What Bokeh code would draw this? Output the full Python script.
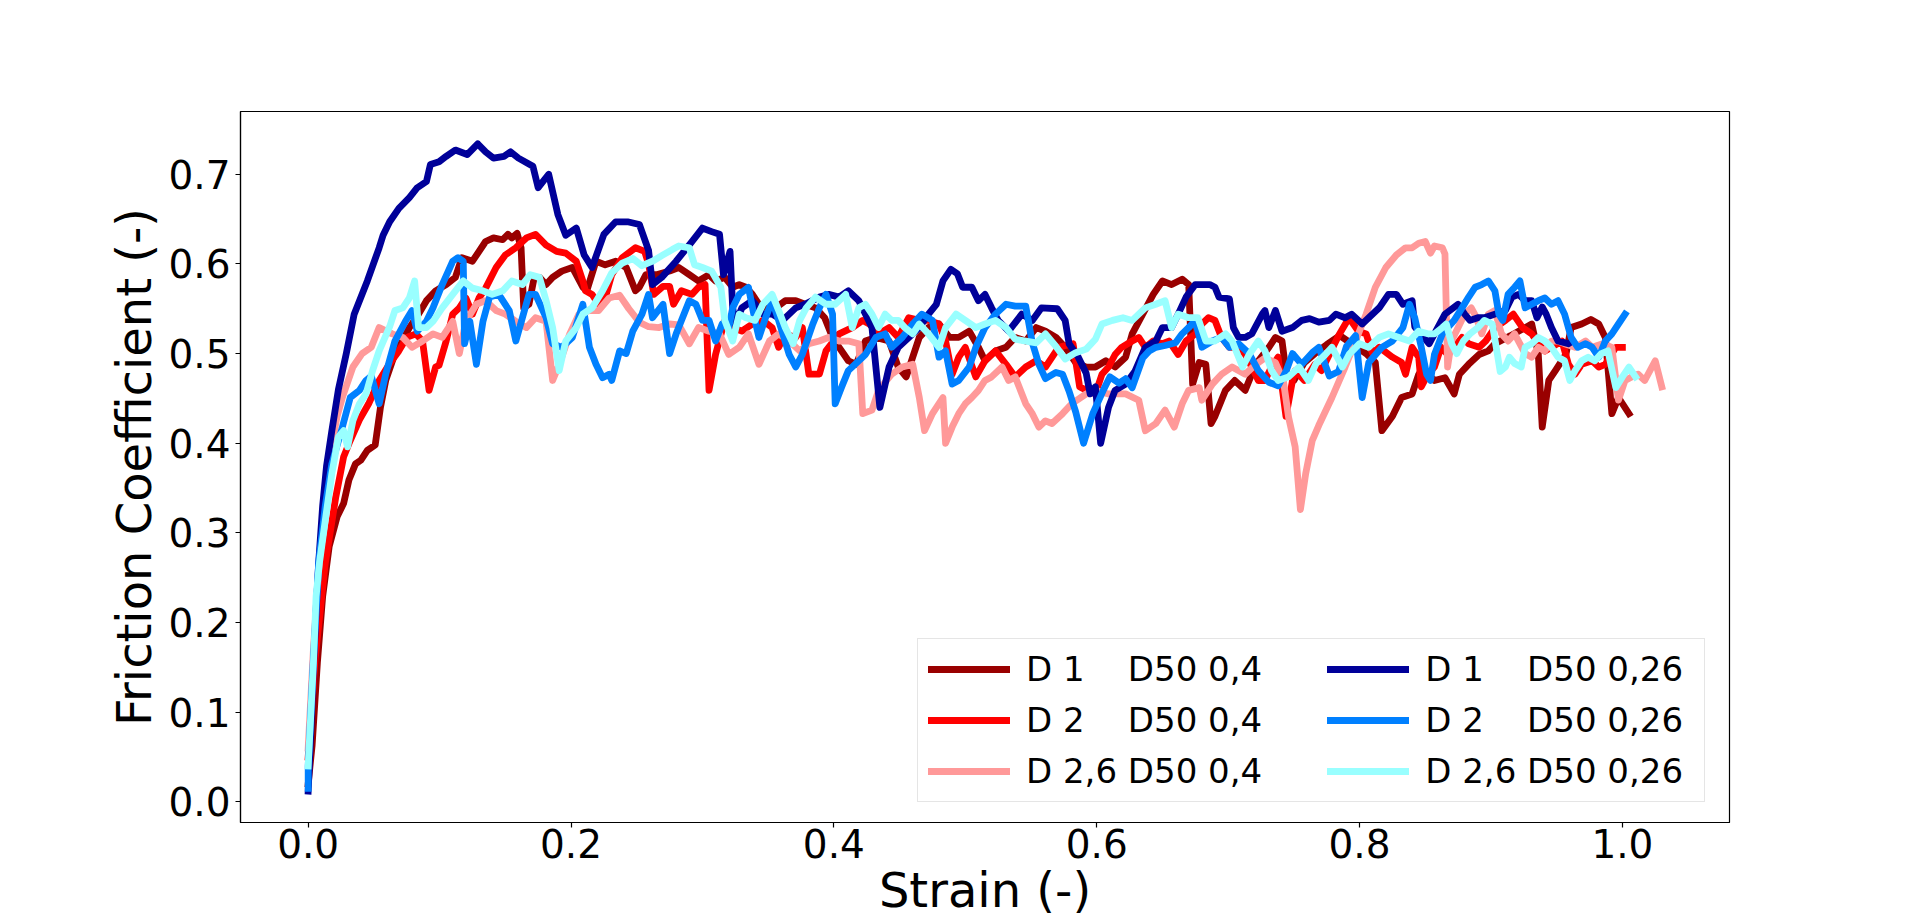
from bokeh.plotting import figure
from bokeh.models import (Range1d, FixedTicker, NumeralTickFormatter, Legend,
                          LegendItem)
from bokeh.embed import file_html
from bokeh.resources import INLINE

FONT = "DejaVu Sans"

x_ticks = [0.0, 0.2, 0.4, 0.6, 0.8, 1.0]
y_ticks = [0.0, 0.1, 0.2, 0.3, 0.4, 0.5, 0.6, 0.7]

x_label = "Strain (-)"
y_label = "Friction Coefficient (-)"

NB = "\u00a0"
labels = [
    "D 1" + NB * 4 + "D50 0,4",
    "D 2" + NB * 4 + "D50 0,4",
    "D 2,6 D50 0,4",
    "D 1" + NB * 4 + "D50 0,26",
    "D 2" + NB * 4 + "D50 0,26",
    "D 2,6 D50 0,26",
]
colors = ["#990000", "#ff0000", "#ff9999", "#000099", "#0080ff", "#99ffff"]

# (strain, friction coefficient)
d1_040 = [(0.0,0.02),(0.003,0.063),(0.007,0.155),(0.011,0.229),(0.016,0.285),(0.022,0.318),(0.027,0.333),(0.031,0.359),(0.036,0.377),(0.040,0.381),(0.045,0.392),(0.051,0.398),(0.055,0.44),(0.059,0.47),(0.066,0.5),(0.072,0.515),(0.077,0.529),(0.084,0.544),(0.090,0.559),(0.097,0.570),(0.105,0.577),(0.112,0.585),(0.117,0.607),(0.125,0.603),(0.130,0.614),(0.135,0.625),(0.141,0.629),(0.148,0.627),(0.152,0.633),(0.155,0.629),(0.159,0.634),(0.162,0.618),(0.164,0.551),(0.168,0.555),(0.172,0.585),(0.176,0.585),(0.181,0.577),(0.186,0.585),(0.193,0.592),(0.201,0.596),(0.209,0.574),(0.212,0.570),(0.219,0.603),(0.226,0.599),(0.234,0.603),(0.242,0.596),(0.249,0.570),(0.252,0.574),(0.257,0.588),(0.265,0.588),(0.275,0.592),(0.282,0.596),(0.290,0.588),(0.297,0.581),(0.305,0.588),(0.310,0.581),(0.317,0.585),(0.323,0.574),(0.328,0.577),(0.333,0.574),(0.338,0.566),(0.343,0.555),(0.353,0.548),(0.363,0.559),(0.371,0.559),(0.378,0.555),(0.386,0.551),(0.393,0.54),(0.399,0.518),(0.404,0.507),(0.411,0.492),(0.417,0.488),(0.424,0.514),(0.432,0.518),(0.442,0.514),(0.449,0.485),(0.455,0.474),(0.460,0.496),(0.465,0.518),(0.472,0.529),(0.480,0.533),(0.488,0.518),(0.495,0.518),(0.503,0.525),(0.510,0.507),(0.515,0.492),(0.523,0.503),(0.531,0.507),(0.538,0.518),(0.546,0.514),(0.554,0.529),(0.561,0.525),(0.569,0.518),(0.576,0.507),(0.584,0.49),(0.592,0.485),(0.599,0.485),(0.607,0.492),(0.614,0.485),(0.622,0.496),(0.627,0.522),(0.635,0.544),(0.643,0.566),(0.650,0.581),(0.657,0.577),(0.665,0.583),(0.670,0.577),(0.673,0.466),(0.678,0.49),(0.683,0.488),(0.687,0.422),(0.690,0.430),(0.698,0.459),(0.705,0.470),(0.713,0.459),(0.721,0.488),(0.731,0.507),(0.736,0.518),(0.741,0.514),(0.744,0.48),(0.750,0.47),(0.758,0.49),(0.766,0.50),(0.775,0.51),(0.785,0.52),(0.795,0.51),(0.805,0.50),(0.812,0.49),(0.817,0.414),(0.825,0.43),(0.832,0.451),(0.840,0.455),(0.845,0.477),(0.852,0.477),(0.857,0.470),(0.865,0.473),(0.872,0.455),(0.876,0.477),(0.883,0.488),(0.891,0.499),(0.898,0.503),(0.903,0.511),(0.915,0.52),(0.931,0.533),(0.936,0.50),(0.939,0.418),(0.944,0.470),(0.949,0.481),(0.957,0.499),(0.961,0.529),(0.969,0.533),(0.976,0.538),(0.982,0.533),(0.987,0.518),(0.992,0.433),(0.997,0.451),(1.005,0.433)]

d2_040 = [(0.0,0.05),(0.005,0.155),(0.013,0.266),(0.021,0.34),(0.027,0.385),(0.032,0.403),(0.039,0.426),(0.046,0.444),(0.054,0.47),(0.062,0.489),(0.069,0.503),(0.075,0.518),(0.082,0.522),(0.087,0.514),(0.092,0.459),(0.097,0.485),(0.0996,0.487),(0.105,0.514),(0.110,0.544),(0.115,0.551),(0.120,0.562),(0.125,0.544),(0.130,0.562),(0.135,0.573),(0.143,0.596),(0.150,0.610),(0.158,0.618),(0.166,0.629),(0.173,0.633),(0.181,0.621),(0.189,0.614),(0.196,0.612),(0.204,0.603),(0.209,0.581),(0.211,0.570),(0.216,0.566),(0.221,0.555),(0.226,0.562),(0.231,0.588),(0.239,0.607),(0.249,0.618),(0.256,0.614),(0.259,0.6),(0.263,0.566),(0.270,0.575),(0.275,0.575),(0.278,0.555),(0.284,0.570),(0.292,0.566),(0.297,0.574),(0.302,0.577),(0.305,0.459),(0.310,0.499),(0.317,0.537),(0.323,0.529),(0.330,0.525),(0.338,0.533),(0.346,0.537),(0.353,0.529),(0.358,0.507),(0.363,0.522),(0.371,0.518),(0.376,0.529),(0.381,0.477),(0.389,0.477),(0.394,0.503),(0.404,0.522),(0.414,0.529),(0.422,0.537),(0.427,0.533),(0.434,0.522),(0.442,0.529),(0.449,0.518),(0.457,0.540),(0.465,0.537),(0.472,0.537),(0.480,0.533),(0.485,0.514),(0.490,0.477),(0.495,0.496),(0.500,0.507),(0.508,0.474),(0.515,0.492),(0.523,0.503),(0.531,0.488),(0.538,0.474),(0.546,0.485),(0.554,0.492),(0.561,0.485),(0.571,0.507),(0.582,0.511),(0.587,0.463),(0.592,0.459),(0.599,0.455),(0.604,0.477),(0.609,0.485),(0.614,0.499),(0.619,0.507),(0.627,0.514),(0.632,0.518),(0.637,0.507),(0.643,0.514),(0.650,0.511),(0.655,0.514),(0.662,0.499),(0.668,0.514),(0.675,0.522),(0.680,0.533),(0.685,0.540),(0.690,0.537),(0.695,0.518),(0.701,0.507),(0.708,0.507),(0.713,0.499),(0.718,0.485),(0.723,0.470),(0.728,0.470),(0.733,0.485),(0.738,0.496),(0.744,0.43),(0.749,0.47),(0.751,0.481),(0.758,0.470),(0.766,0.488),(0.771,0.481),(0.776,0.496),(0.784,0.52),(0.792,0.54),(0.799,0.525),(0.805,0.522),(0.810,0.50),(0.815,0.507),(0.825,0.496),(0.832,0.49),(0.835,0.477),(0.840,0.507),(0.845,0.496),(0.847,0.463),(0.852,0.477),(0.857,0.485),(0.862,0.507),(0.867,0.499),(0.872,0.507),(0.878,0.518),(0.883,0.511),(0.891,0.507),(0.896,0.514),(0.903,0.529),(0.911,0.537),(0.917,0.544),(0.924,0.529),(0.931,0.522),(0.936,0.511),(0.941,0.503),(0.946,0.507),(0.954,0.514),(0.959,0.488),(0.964,0.477),(0.969,0.488),(0.977,0.492),(0.982,0.485),(0.987,0.488),(0.995,0.507),(1.0,0.507)]

d26_040 = [(0.0,0.06),(0.004,0.17),(0.008,0.26),(0.012,0.33),(0.017,0.39),(0.022,0.43),(0.026,0.451),(0.034,0.485),(0.041,0.5),(0.048,0.507),(0.054,0.529),(0.064,0.522),(0.072,0.518),(0.079,0.507),(0.087,0.514),(0.095,0.522),(0.102,0.518),(0.110,0.536),(0.115,0.5),(0.120,0.536),(0.128,0.555),(0.135,0.559),(0.143,0.548),(0.150,0.544),(0.158,0.536),(0.166,0.529),(0.173,0.540),(0.181,0.536),(0.186,0.470),(0.191,0.488),(0.199,0.522),(0.206,0.544),(0.214,0.548),(0.221,0.548),(0.229,0.562),(0.237,0.565),(0.244,0.55),(0.252,0.535),(0.259,0.530),(0.267,0.529),(0.275,0.533),(0.282,0.532),(0.290,0.511),(0.297,0.529),(0.305,0.525),(0.313,0.522),(0.320,0.499),(0.328,0.507),(0.335,0.522),(0.343,0.488),(0.351,0.514),(0.358,0.522),(0.366,0.514),(0.374,0.503),(0.381,0.511),(0.389,0.514),(0.396,0.518),(0.404,0.514),(0.411,0.514),(0.419,0.511),(0.422,0.433),(0.429,0.437),(0.434,0.459),(0.444,0.477),(0.452,0.485),(0.460,0.488),(0.465,0.451),(0.469,0.414),(0.475,0.433),(0.483,0.451),(0.485,0.4),(0.490,0.418),(0.495,0.433),(0.500,0.444),(0.505,0.451),(0.510,0.459),(0.515,0.470),(0.520,0.474),(0.528,0.485),(0.533,0.470),(0.538,0.474),(0.546,0.444),(0.551,0.433),(0.556,0.418),(0.561,0.425),(0.566,0.422),(0.574,0.433),(0.581,0.444),(0.592,0.455),(0.599,0.459),(0.609,0.455),(0.622,0.455),(0.632,0.448),(0.637,0.414),(0.645,0.422),(0.652,0.437),(0.659,0.418),(0.665,0.444),(0.670,0.459),(0.678,0.462),(0.680,0.448),(0.688,0.466),(0.695,0.477),(0.703,0.485),(0.713,0.477),(0.721,0.488),(0.728,0.495),(0.736,0.49),(0.742,0.47),(0.746,0.429),(0.751,0.396),(0.755,0.326),(0.759,0.366),(0.764,0.403),(0.769,0.42),(0.779,0.451),(0.789,0.485),(0.797,0.514),(0.805,0.544),(0.812,0.574),(0.820,0.596),(0.828,0.61),(0.835,0.618),(0.840,0.618),(0.845,0.623),(0.850,0.625),(0.854,0.612),(0.857,0.620),(0.863,0.618),(0.865,0.611),(0.867,0.485),(0.870,0.514),(0.875,0.529),(0.880,0.544),(0.885,0.551),(0.889,0.540),(0.893,0.522),(0.898,0.544),(0.903,0.548),(0.908,0.522),(0.913,0.514),(0.918,0.522),(0.926,0.5),(0.931,0.496),(0.936,0.507),(0.941,0.503),(0.946,0.514),(0.951,0.514),(0.956,0.511),(0.964,0.507),(0.972,0.514),(0.977,0.507),(0.985,0.511),(0.992,0.507),(0.997,0.448),(1.002,0.470),(1.007,0.474),(1.012,0.477),(1.017,0.470),(1.025,0.492),(1.030,0.463)]

d1_026 = [(0.0,0.012),(0.002,0.08),(0.004,0.15),(0.006,0.21),(0.008,0.267),(0.011,0.33),(0.014,0.375),(0.018,0.414),(0.023,0.46),(0.029,0.50),(0.035,0.544),(0.045,0.581),(0.054,0.618),(0.057,0.632),(0.062,0.647),(0.069,0.662),(0.077,0.674),(0.083,0.685),(0.090,0.692),(0.093,0.711),(0.0996,0.714),(0.105,0.720),(0.112,0.727),(0.121,0.722),(0.129,0.734),(0.135,0.725),(0.141,0.718),(0.149,0.720),(0.154,0.725),(0.160,0.718),(0.171,0.709),(0.175,0.685),(0.183,0.700),(0.190,0.655),(0.196,0.632),(0.204,0.640),(0.210,0.610),(0.216,0.596),(0.225,0.633),(0.234,0.647),(0.243,0.647),(0.252,0.644),(0.259,0.615),(0.262,0.577),(0.269,0.585),(0.280,0.603),(0.292,0.625),(0.300,0.640),(0.307,0.636),(0.313,0.633),(0.316,0.588),(0.321,0.614),(0.323,0.551),(0.325,0.533),(0.330,0.551),(0.338,0.559),(0.346,0.544),(0.353,0.544),(0.361,0.537),(0.371,0.551),(0.378,0.555),(0.389,0.563),(0.396,0.566),(0.404,0.563),(0.411,0.570),(0.419,0.559),(0.424,0.544),(0.429,0.529),(0.435,0.440),(0.442,0.485),(0.449,0.507),(0.457,0.518),(0.465,0.529),(0.472,0.544),(0.478,0.555),(0.483,0.581),(0.489,0.594),(0.494,0.589),(0.498,0.574),(0.505,0.574),(0.510,0.559),(0.515,0.566),(0.520,0.551),(0.525,0.537),(0.533,0.525),(0.543,0.544),(0.551,0.537),(0.558,0.551),(0.570,0.550),(0.576,0.537),(0.579,0.511),(0.586,0.496),(0.592,0.478),(0.595,0.455),(0.599,0.463),(0.603,0.400),(0.609,0.440),(0.614,0.459),(0.622,0.466),(0.629,0.480),(0.637,0.507),(0.645,0.514),(0.650,0.529),(0.657,0.529),(0.662,0.544),(0.668,0.563),(0.675,0.577),(0.686,0.577),(0.690,0.574),(0.693,0.563),(0.701,0.561),(0.704,0.529),(0.708,0.518),(0.713,0.518),(0.718,0.522),(0.726,0.544),(0.728,0.548),(0.731,0.529),(0.736,0.548),(0.741,0.525),(0.749,0.529),(0.756,0.537),(0.762,0.539),(0.769,0.535),(0.777,0.537),(0.782,0.544),(0.789,0.540),(0.794,0.544),(0.802,0.533),(0.807,0.540),(0.815,0.551),(0.822,0.566),(0.828,0.566),(0.833,0.555),(0.840,0.559),(0.842,0.530),(0.853,0.511),(0.865,0.544),(0.875,0.555),(0.880,0.544),(0.884,0.537),(0.890,0.540),(0.895,0.540),(0.903,0.544),(0.911,0.548),(0.916,0.563),(0.921,0.566),(0.926,0.559),(0.931,0.559),(0.935,0.540),(0.939,0.552),(0.942,0.544),(0.946,0.529),(0.951,0.514),(0.959,0.511),(0.962,0.514)]

d2_026 = [(0.0,0.015),(0.0,0.04),(0.004,0.16),(0.008,0.267),(0.013,0.33),(0.018,0.377),(0.026,0.418),(0.032,0.451),(0.039,0.459),(0.044,0.470),(0.048,0.475),(0.054,0.444),(0.059,0.477),(0.066,0.514),(0.074,0.536),(0.079,0.548),(0.083,0.525),(0.090,0.536),(0.095,0.551),(0.102,0.577),(0.110,0.603),(0.114,0.607),(0.118,0.603),(0.119,0.511),(0.123,0.536),(0.128,0.488),(0.133,0.536),(0.138,0.563),(0.145,0.566),(0.153,0.548),(0.158,0.514),(0.163,0.540),(0.168,0.566),(0.173,0.566),(0.181,0.540),(0.186,0.511),(0.193,0.507),(0.201,0.518),(0.209,0.555),(0.214,0.507),(0.219,0.488),(0.224,0.473),(0.229,0.477),(0.231,0.470),(0.237,0.503),(0.242,0.500),(0.247,0.525),(0.254,0.544),(0.259,0.566),(0.262,0.540),(0.270,0.555),(0.275,0.500),(0.280,0.522),(0.290,0.559),(0.295,0.555),(0.300,0.537),(0.305,0.537),(0.310,0.514),(0.315,0.533),(0.320,0.529),(0.323,0.551),(0.328,0.566),(0.335,0.574),(0.340,0.537),(0.343,0.518),(0.348,0.540),(0.353,0.559),(0.358,0.537),(0.366,0.499),(0.371,0.485),(0.376,0.499),(0.384,0.533),(0.389,0.551),(0.394,0.566),(0.399,0.544),(0.401,0.444),(0.406,0.463),(0.411,0.481),(0.419,0.492),(0.424,0.499),(0.432,0.518),(0.439,0.522),(0.444,0.507),(0.452,0.518),(0.460,0.533),(0.467,0.544),(0.475,0.537),(0.480,0.496),(0.485,0.503),(0.490,0.466),(0.495,0.470),(0.503,0.485),(0.508,0.507),(0.515,0.529),(0.523,0.544),(0.531,0.555),(0.538,0.553),(0.546,0.553),(0.551,0.512),(0.556,0.488),(0.561,0.472),(0.569,0.479),(0.574,0.477),(0.579,0.458),(0.584,0.435),(0.590,0.400),(0.597,0.433),(0.605,0.459),(0.610,0.474),(0.617,0.467),(0.622,0.472),(0.627,0.462),(0.635,0.495),(0.640,0.503),(0.645,0.507),(0.652,0.509),(0.660,0.512),(0.665,0.522),(0.670,0.529),(0.675,0.537),(0.680,0.507),(0.688,0.514),(0.695,0.518),(0.701,0.507),(0.708,0.511),(0.716,0.500),(0.723,0.481),(0.731,0.468),(0.738,0.464),(0.744,0.480),(0.749,0.500),(0.756,0.488),(0.764,0.501),(0.769,0.507),(0.777,0.475),(0.784,0.480),(0.790,0.508),(0.797,0.520),(0.802,0.451),(0.807,0.490),(0.817,0.507),(0.825,0.514),(0.833,0.529),(0.838,0.555),(0.842,0.540),(0.847,0.507),(0.851,0.477),(0.854,0.470),(0.857,0.499),(0.863,0.522),(0.867,0.529),(0.872,0.537),(0.878,0.551),(0.883,0.563),(0.888,0.574),(0.893,0.577),(0.898,0.581),(0.903,0.570),(0.906,0.544),(0.909,0.537),(0.913,0.566),(0.918,0.574),(0.922,0.581),(0.926,0.551),(0.931,0.555),(0.936,0.559),(0.941,0.562),(0.946,0.555),(0.951,0.559),(0.956,0.544),(0.961,0.518),(0.966,0.507),(0.972,0.511),(0.977,0.507),(0.982,0.496),(0.987,0.514),(0.992,0.522),(0.997,0.533),(1.002,0.544)]

d26_026 = [(0.0,0.04),(0.004,0.155),(0.006,0.229),(0.0086,0.267),(0.0134,0.318),(0.018,0.366),(0.023,0.407),(0.027,0.414),(0.030,0.396),(0.034,0.425),(0.039,0.444),(0.044,0.455),(0.049,0.481),(0.054,0.503),(0.062,0.530),(0.066,0.548),(0.072,0.551),(0.077,0.562),(0.081,0.581),(0.084,0.529),(0.090,0.529),(0.095,0.536),(0.102,0.551),(0.110,0.566),(0.118,0.581),(0.125,0.573),(0.133,0.570),(0.140,0.566),(0.148,0.570),(0.155,0.581),(0.163,0.577),(0.169,0.588),(0.176,0.585),(0.181,0.559),(0.186,0.529),(0.191,0.481),(0.196,0.514),(0.204,0.529),(0.209,0.544),(0.216,0.551),(0.224,0.570),(0.231,0.590),(0.239,0.601),(0.247,0.606),(0.254,0.598),(0.262,0.603),(0.270,0.610),(0.277,0.616),(0.282,0.620),(0.290,0.618),(0.294,0.599),(0.300,0.596),(0.307,0.592),(0.314,0.574),(0.317,0.537),(0.323,0.514),(0.328,0.544),(0.333,0.540),(0.340,0.537),(0.346,0.555),(0.353,0.566),(0.358,0.548),(0.363,0.529),(0.369,0.511),(0.374,0.537),(0.379,0.551),(0.386,0.563),(0.394,0.555),(0.401,0.555),(0.409,0.566),(0.414,0.529),(0.419,0.551),(0.424,0.555),(0.429,0.544),(0.434,0.529),(0.439,0.544),(0.444,0.537),(0.449,0.537),(0.454,0.529),(0.460,0.522),(0.465,0.533),(0.472,0.522),(0.480,0.507),(0.485,0.529),(0.493,0.544),(0.500,0.537),(0.508,0.529),(0.515,0.533),(0.523,0.537),(0.531,0.529),(0.538,0.516),(0.546,0.514),(0.554,0.512),(0.561,0.522),(0.569,0.508),(0.576,0.494),(0.584,0.501),(0.592,0.505),(0.599,0.516),(0.604,0.533),(0.612,0.537),(0.620,0.540),(0.627,0.537),(0.632,0.544),(0.637,0.551),(0.645,0.555),(0.652,0.559),(0.657,0.529),(0.662,0.544),(0.670,0.540),(0.677,0.540),(0.683,0.514),(0.690,0.514),(0.698,0.522),(0.703,0.514),(0.711,0.485),(0.716,0.499),(0.723,0.514),(0.728,0.503),(0.733,0.481),(0.738,0.470),(0.746,0.474),(0.754,0.485),(0.761,0.470),(0.767,0.489),(0.774,0.499),(0.779,0.507),(0.787,0.485),(0.792,0.499),(0.800,0.511),(0.807,0.507),(0.815,0.518),(0.822,0.522),(0.830,0.518),(0.838,0.514),(0.845,0.525),(0.852,0.522),(0.857,0.522),(0.863,0.529),(0.866,0.533),(0.870,0.511),(0.874,0.500),(0.879,0.514),(0.884,0.522),(0.890,0.529),(0.895,0.537),(0.901,0.533),(0.904,0.507),(0.907,0.480),(0.911,0.485),(0.914,0.496),(0.918,0.489),(0.923,0.485),(0.926,0.507),(0.931,0.511),(0.936,0.518),(0.941,0.514),(0.946,0.507),(0.951,0.496),(0.956,0.492),(0.960,0.470),(0.964,0.481),(0.969,0.492),(0.974,0.496),(0.979,0.492),(0.984,0.500),(0.989,0.503),(0.995,0.462),(1.000,0.474),(1.005,0.485),(1.010,0.474)]

series = [d1_040, d2_040, d26_040, d1_026, d2_026, d26_026]

p = figure(width=1920, height=922,
           x_range=Range1d(-0.0515, 1.0815), y_range=Range1d(-0.023, 0.770),
           output_backend="svg", toolbar_location=None,
           min_border_left=240, min_border_right=191,
           min_border_top=111, min_border_bottom=100)

p.background_fill_color = "white"
p.border_fill_color = "white"
p.outline_line_color = "black"
p.outline_line_width = 1.2
p.outline_line_alpha = 1.0
p.xgrid.visible = False
p.ygrid.visible = False

p.xaxis.ticker = FixedTicker(ticks=x_ticks)
p.yaxis.ticker = FixedTicker(ticks=y_ticks)
p.xaxis.formatter = NumeralTickFormatter(format="0.0")
p.yaxis.formatter = NumeralTickFormatter(format="0.0")
for ax in (p.xaxis, p.yaxis):
    ax.major_label_text_font = FONT
    ax.major_label_text_font_size = "39px"
    ax.major_label_text_color = "black"
    ax.minor_tick_line_color = None
    ax.major_tick_in = 0
    ax.major_tick_out = 5
    ax.major_tick_line_color = "black"
    ax.major_tick_line_width = 1.2
    ax.axis_line_color = "black"
    ax.axis_line_width = 1.2
    ax.axis_label_text_font = FONT
    ax.axis_label_text_font_size = "48px"
    ax.axis_label_text_font_style = "normal"
    ax.axis_label_text_color = "black"
p.xaxis.major_label_standoff = 1
p.yaxis.major_label_standoff = 5

p.yaxis.axis_label = y_label
p.yaxis.axis_label_standoff = 3
p.xaxis.axis_label = x_label
p.xaxis.axis_label_standoff = 1

renderers = []
for data, col in zip(series, colors):
    xs = [pt[0] for pt in data]
    ys = [pt[1] for pt in data]
    r = p.line(xs, ys, line_color=col, line_width=6.8,
               line_join="round", line_cap="square")
    renderers.append(r)

items = []
for i, (lab, r) in enumerate(zip(labels, renderers)):
    lab = lab + (NB * 5 if i < 3 else NB)
    items.append(LegendItem(label=lab, renderers=[r]))

legend = Legend(items=items, ncols=2, location=(677, 20),
                label_text_font=FONT, label_text_font_size="34px",
                label_text_color="black",
                glyph_width=82, glyph_height=20, label_standoff=16,
                spacing=11, padding=10, margin=0,
                border_line_color="#cccccc", border_line_width=1.5,
                background_fill_color="white", background_fill_alpha=0.8)
p.add_layout(legend)

html = file_html(p, INLINE, title="Friction Coefficient vs Strain")
with open("out.html", "w") as f:
    f.write(html)
